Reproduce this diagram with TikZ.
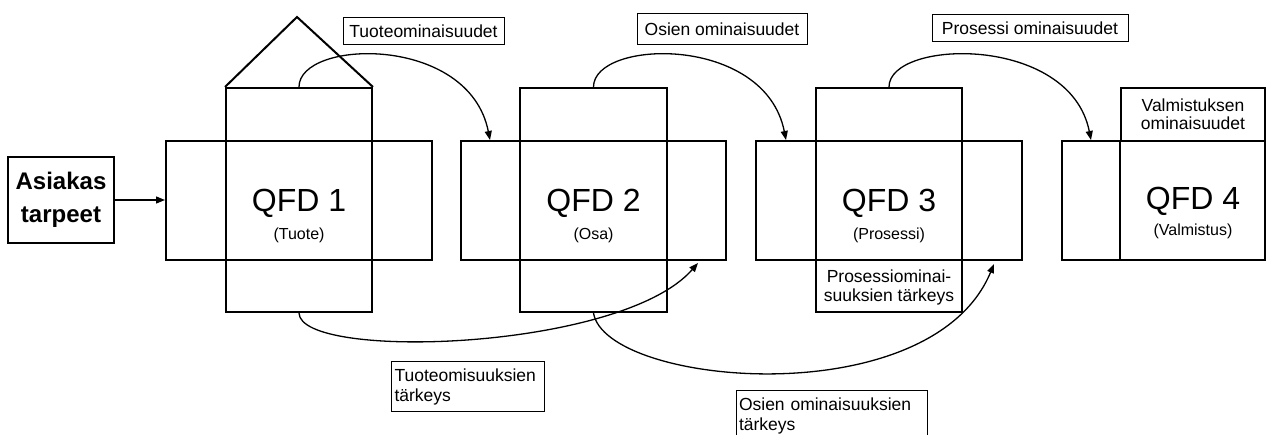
\documentclass[tikz,border=0pt]{standalone}
\usepackage{fontspec}
\setmainfont{Liberation Sans}
\usetikzlibrary{arrows.meta,calc}
\newcommand{\lblfont}{\fontsize{17.5}{20}\selectfont}
\tikzset{
  qbox/.style={draw, line width=2pt, inner sep=0pt, minimum width=#1},
  hbox/.style={qbox=#1, minimum height=119pt},
  vbox/.style={qbox=#1, minimum height=224pt},
  lbl/.style={draw, line width=1pt, inner sep=0pt, font=\lblfont},
  lbltwo/.style={draw, line width=1pt, inner xsep=3pt, inner ysep=0pt, font=\lblfont, align=left},
  qtitle/.style={anchor=base, inner sep=0pt, font=\fontsize{32}{36}\selectfont},
  qsub/.style={anchor=base, inner sep=0pt, font=\fontsize{16}{18}\selectfont},
  conn/.style={line width=1.3pt, -{Triangle[length=9pt,width=7pt]}}
}
\begin{document}
\begin{tikzpicture}[x=1pt,y=-1pt]
\useasboundingbox (0,0) rectangle (1267,435);
\clip (0,0) rectangle (1267,435);
% customer needs
\node[qbox=106pt, minimum height=86pt, align=center, font=\bfseries\fontsize{24}{33}\selectfont] (asiakas) at (61,200) {Asiakas\\tarpeet};
% QFD 1
\node[hbox=266pt] (h1) at (299,200.5) {};
\node[vbox=146pt] (v1) at (299,200) {};
\coordinate (apex) at (297,17);
\draw[line width=2pt, line join=miter] (v1.north west) -- (apex) -- (v1.north east);
\node[qtitle] (t1) at (299,212) {QFD 1};
\node[qsub] (s1) at (299,240) {(Tuote)};
% QFD 2
\node[hbox=265pt] (h2) at (593.5,200.5) {};
\node[vbox=147pt] (v2) at (593.5,200) {};
\node[qtitle] (t2) at (593.5,212) {QFD 2};
\node[qsub] (s2) at (593.5,240) {(Osa)};
% QFD 3
\node[hbox=266pt] (h3) at (889,200.5) {};
\node[vbox=146pt] (v3) at (889,200) {};
\node[qtitle] (t3) at (889,212) {QFD 3};
\node[qsub] (s3) at (889,240) {(Prosessi)};
\node[inner sep=0pt, align=center, font=\fontsize{17.5}{19}\selectfont] (p3) at (889,287) {Prosessiominai-\\suuksien tärkeys};
% QFD 4
\node[qbox=203pt, minimum height=119pt] (h4) at (1163.5,200.5) {};
\node[qbox=144pt, minimum height=53pt, align=center, font=\fontsize{17.5}{18}\selectfont] (top4) at (1193,114.5) {Valmistuksen\\ominaisuudet};
\draw[line width=2pt] (top4.south west) -- (top4.south west |- h4.south);
\node[qtitle] (t4) at (1193,210) {QFD 4};
\node[qsub] (s4) at (1193,236) {(Valmistus)};
% labels
\node[lbl, minimum width=161pt, minimum height=27pt] (l1) at (423.5,31.5) {Tuoteominaisuudet};
\node[lbl, minimum width=170pt, minimum height=31pt] (l2) at (722,29.5) {Osien ominaisuudet};
\node[lbl, minimum width=196pt, minimum height=27pt] (l3) at (1030,28.5) {Prosessi ominaisuudet};
\node[lbltwo, text width=147pt, minimum height=50pt] (l4) at (468,387) {Tuoteomisuuksien\\tärkeys};
\node[lbltwo, text width=185pt, minimum height=50pt] (l5) at (831.5,416) {Osien ominaisuuksien\\tärkeys};
% arrow targets
\coordinate (a2) at ($(h2.north west)+(30,0)$);
\coordinate (a3) at ($(h3.north west)+(31,0)$);
\coordinate (a4) at ($(h4.north west)+(30,0)$);
\coordinate (b2) at ($(h2.south east)+(-29,2)$);
\coordinate (b3) at ($(h3.south east)+(-29,3)$);
% connectors
\draw[conn] (asiakas.east) -- (asiakas.east -| h1.west);
\draw[conn] (v1.north) .. controls ($(v1.north)+(0,-48)$) and ($(a2)+(-21,-106)$) .. (a2);
\draw[conn] (v2.north) .. controls ($(v2.north)+(0,-48)$) and ($(a3)+(-21,-106)$) .. (a3);
\draw[conn] (v3.north) .. controls ($(v3.north)+(0,-48)$) and ($(a4)+(-21,-106)$) .. (a4);
\draw[conn] (v1.south) .. controls ($(v1.south)+(1,48)$) and ($(b2)+(-77,88)$) .. (b2);
\draw[conn] (v2.south) .. controls ($(v2.south)+(12,73)$) and ($(b3)+(-63,152)$) .. (b3);
\end{tikzpicture}
\end{document}
